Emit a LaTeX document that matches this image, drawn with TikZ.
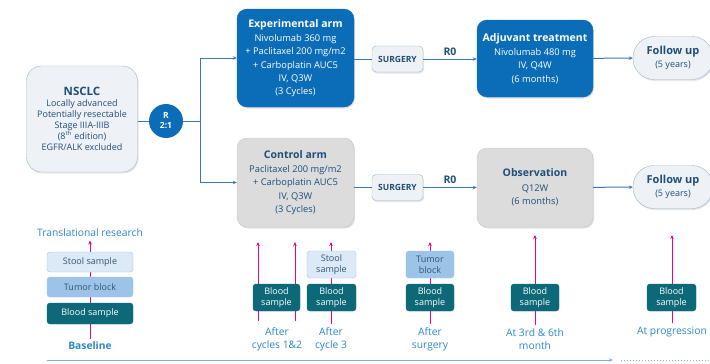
\documentclass[tikz,border=0pt]{standalone}
\usepackage{fontspec}
\setmainfont{Open Sans}
\usetikzlibrary{positioning, shadows, backgrounds, arrows.meta}

\definecolor{armblue}{HTML}{0B6DB7}
\definecolor{navytext}{HTML}{1F4E79}
\definecolor{greyfill}{HTML}{DCDCDC}
\definecolor{palefill}{HTML}{EEF1F5}
\definecolor{paleedge}{HTML}{9FB4C9}
\definecolor{linkblue}{HTML}{3B78AE}
\definecolor{labelblue}{HTML}{2A88C8}
\definecolor{stoolfill}{HTML}{DCEAF7}
\definecolor{tumorfill}{HTML}{9CC4E8}
\definecolor{bloodfill}{HTML}{0D6878}
\definecolor{sampletext}{HTML}{34556F}
\definecolor{pinkline}{HTML}{E6067F}
\definecolor{timeline}{HTML}{7FB0DD}

\tikzset{
    >={Stealth[length=4pt, width=3.5pt]},
    bodyfont/.style={font=\fontsize{9.3}{13.3}\selectfont},
    bluebox/.style={fill=armblue, draw=armblue, text=white, rounded corners=10pt, align=center, bodyfont,
        drop shadow={shadow xshift=1pt, shadow yshift=-1.5pt, opacity=0.25}},
    greybox/.style={fill=greyfill, draw=greyfill!90!black, text=navytext, rounded corners=10pt, align=center, bodyfont,
        drop shadow={shadow xshift=1pt, shadow yshift=-1.5pt, opacity=0.25}},
    palebox/.style={fill=palefill, draw=paleedge, text=navytext, align=center,
        drop shadow={shadow xshift=1pt, shadow yshift=-1.5pt, opacity=0.2}},
    surgbox/.style={palebox, rounded corners=4pt, minimum width=51pt, minimum height=26pt,
        font=\bfseries\fontsize{8.5}{10}\selectfont},
    fubox/.style={palebox, rounded corners=21pt, minimum width=80pt, minimum height=43pt},
    link/.style={draw=linkblue, line width=1pt},
    samplebox/.style={rounded corners=3pt, align=center, inner sep=1pt, font=\fontsize{9}{11}\selectfont},
    stoolbox/.style={samplebox, fill=stoolfill, draw=tumorfill, text=sampletext},
    tumorbox/.style={samplebox, fill=tumorfill, draw=tumorfill, text=sampletext},
    bloodbox/.style={samplebox, fill=bloodfill, draw=bloodfill, text=white},
    steplabel/.style={text=labelblue, align=center, font=\fontsize{10.3}{13}\selectfont},
    pinkarrow/.style={draw=pinkline, line width=0.6pt, ->},
}

\newcommand{\boxtitle}[1]{{\bfseries\fontsize{10.5}{13}\selectfont #1}}

\begin{document}
\begin{tikzpicture}[x=1pt, y=-1pt]
    \useasboundingbox (0,0) rectangle (710,364);

    % --- Population and randomisation ---
    \node[palebox, rounded corners=15pt, minimum width=111pt, minimum height=106pt,
        font=\fontsize{9}{11}\selectfont] (nsclc) at (82,119)
        {{\bfseries\fontsize{11.5}{13}\selectfont NSCLC}\\Locally advanced\\Potentially resectable\\Stage IIIA-IIIB\\(8\textsuperscript{th} edition)\\EGFR/ALK excluded};
    \node[circle, fill=armblue, text=white, minimum size=34pt, inner sep=0pt, align=center,
        font=\bfseries\fontsize{8.5}{10}\selectfont] (rand) at (166,121) {R\\2:1};
    \coordinate (split) at (200,121);

    % --- Experimental arm ---
    \node[bluebox, minimum width=117pt, minimum height=98pt] (exp) at (295.5,58)
        {\boxtitle{Experimental arm}\\[1pt]Nivolumab 360 mg\\+ Paclitaxel 200 mg/m2\\+ Carboplatin AUC5\\IV, Q3W\\(3 Cycles)};
    \node[surgbox] (surg1) at (397.5,59) {SURGERY};
    \node[bluebox, minimum width=116pt, minimum height=77pt] (adj) at (535,58.5)
        {\boxtitle{Adjuvant treatment}\\[1pt]Nivolumab 480 mg\\IV, Q4W\\(6 months)};
    \node[fubox] (fu1) at (673,58)
        {{\bfseries\fontsize{11}{13}\selectfont Follow up}\\[1pt]{\fontsize{9}{10}\selectfont (5 years)}};

    % --- Control arm ---
    \node[greybox, minimum width=117pt, minimum height=89pt] (ctrl) at (295.5,182.5)
        {\boxtitle{Control arm}\\[1pt]Paclitaxel 200 mg/m2\\+ Carboplatin AUC5\\IV, Q3W\\(3 Cycles)};
    \node[surgbox] (surg2) at (397.5,187.5) {SURGERY};
    \node[greybox, minimum width=116pt, minimum height=79pt] (obs) at (535,187.5)
        {\boxtitle{Observation}\\[1pt]Q12W\\(6 months)};
    \node[fubox] (fu2) at (673,187)
        {{\bfseries\fontsize{11}{13}\selectfont Follow up}\\[1pt]{\fontsize{9}{10}\selectfont (5 years)}};

    % --- Flow ---
    \draw[link] (nsclc.east |- rand) -- (rand);
    \draw[link] (rand) -- (split);
    \draw[link, ->] (split) |- (exp);
    \draw[link, ->] (split) |- (ctrl);
    \draw[link] (exp.east |- surg1) -- (surg1);
    \draw[link] (ctrl.east |- surg2) -- (surg2);
    \draw[link, ->] (surg1) -- node[above, text=navytext, font=\bfseries\fontsize{10.5}{12}\selectfont] {R0} (adj.west |- surg1);
    \draw[link, ->] (surg2) -- node[above, text=navytext, font=\bfseries\fontsize{10.5}{12}\selectfont] {R0} (obs.west |- surg2);
    \draw[link, ->] (adj) -- (fu1);
    \draw[link, ->] (obs) -- (fu2);

    % --- Baseline samples ---
    \node[steplabel] (trlab) at (90,233) {Translational research};
    \node[stoolbox, minimum width=86pt, minimum height=20pt] (stool0) at (90,262) {Stool sample};
    \node[tumorbox, minimum width=86pt, minimum height=20pt] (tumor0) at (90,287) {Tumor block};
    \node[bloodbox, minimum width=86pt, minimum height=21pt] (blood0) at (90,313.5) {Blood sample};
    \node[steplabel, font=\bfseries\fontsize{10.3}{13}\selectfont] (base) at (90,346) {Baseline};

    % --- Samples along the treatment ---
    \node[bloodbox, minimum width=47pt, minimum height=27pt] (blood1) at (276.5,297.5) {Blood\\sample};
    \node[steplabel] (lab1) at (277,339) {After\\cycles 1\&2};
    \node[stoolbox, minimum width=49pt, minimum height=27pt] (stool3) at (331.5,264.5) {Stool\\sample};
    \node[bloodbox, minimum width=49pt, minimum height=27pt] (blood3) at (331.5,297.5) {Blood\\sample};
    \node[steplabel] (lab3) at (331,339) {After\\cycle 3};
    \node[tumorbox, minimum width=48pt, minimum height=27pt] (tumor4) at (430,264.5) {Tumor\\block};
    \node[bloodbox, minimum width=48pt, minimum height=27pt] (blood4) at (430,297.5) {Blood\\sample};
    \node[steplabel] (lab4) at (430,339) {After\\surgery};
    \node[bloodbox, minimum width=48pt, minimum height=27pt] (blood5) at (535,297.5) {Blood\\sample};
    \node[steplabel] (lab5) at (535,339) {At 3rd \& 6th\\month};
    \node[bloodbox, minimum width=49pt, minimum height=27pt] (blood6) at (671.5,297.5) {Blood\\sample};
    \node[steplabel] (lab6) at (672,332) {At progression};

    \coordinate (cyc1bot) at (258,321);
    \coordinate (cyc1top) at (258,242);
    \coordinate (cyc2bot) at (295,321);
    \coordinate (cyc2top) at (295,242);
    \coordinate (top3) at (331,242);
    \coordinate (top4) at (430,242);
    \coordinate (top5) at (535,235);
    \coordinate (top6) at (672,235);

    \begin{scope}[on background layer]
        \draw[pinkarrow] (base) -- (trlab);
        \draw[pinkarrow] (cyc1bot) -- (cyc1top);
        \draw[pinkarrow] (cyc2bot) -- (cyc2top);
        \draw[pinkarrow] (lab3.north) -- (top3);
        \draw[pinkarrow] (lab4.north) -- (top4);
        \draw[pinkarrow] (lab5.north) -- (top5);
        \draw[pinkarrow] (lab6.north) -- (top6);
    \end{scope}

    % --- Time line ---
    \coordinate (tl0) at (47,360);
    \coordinate (tl1) at (613,360);
    \coordinate (tl2) at (621,360);
    \coordinate (tl3) at (710,360);
    \draw[timeline, line width=1pt, ->] (tl0) -- (tl1);
    \draw[timeline, line width=1pt, dotted] (tl2) -- (tl3);

\end{tikzpicture}
\end{document}
